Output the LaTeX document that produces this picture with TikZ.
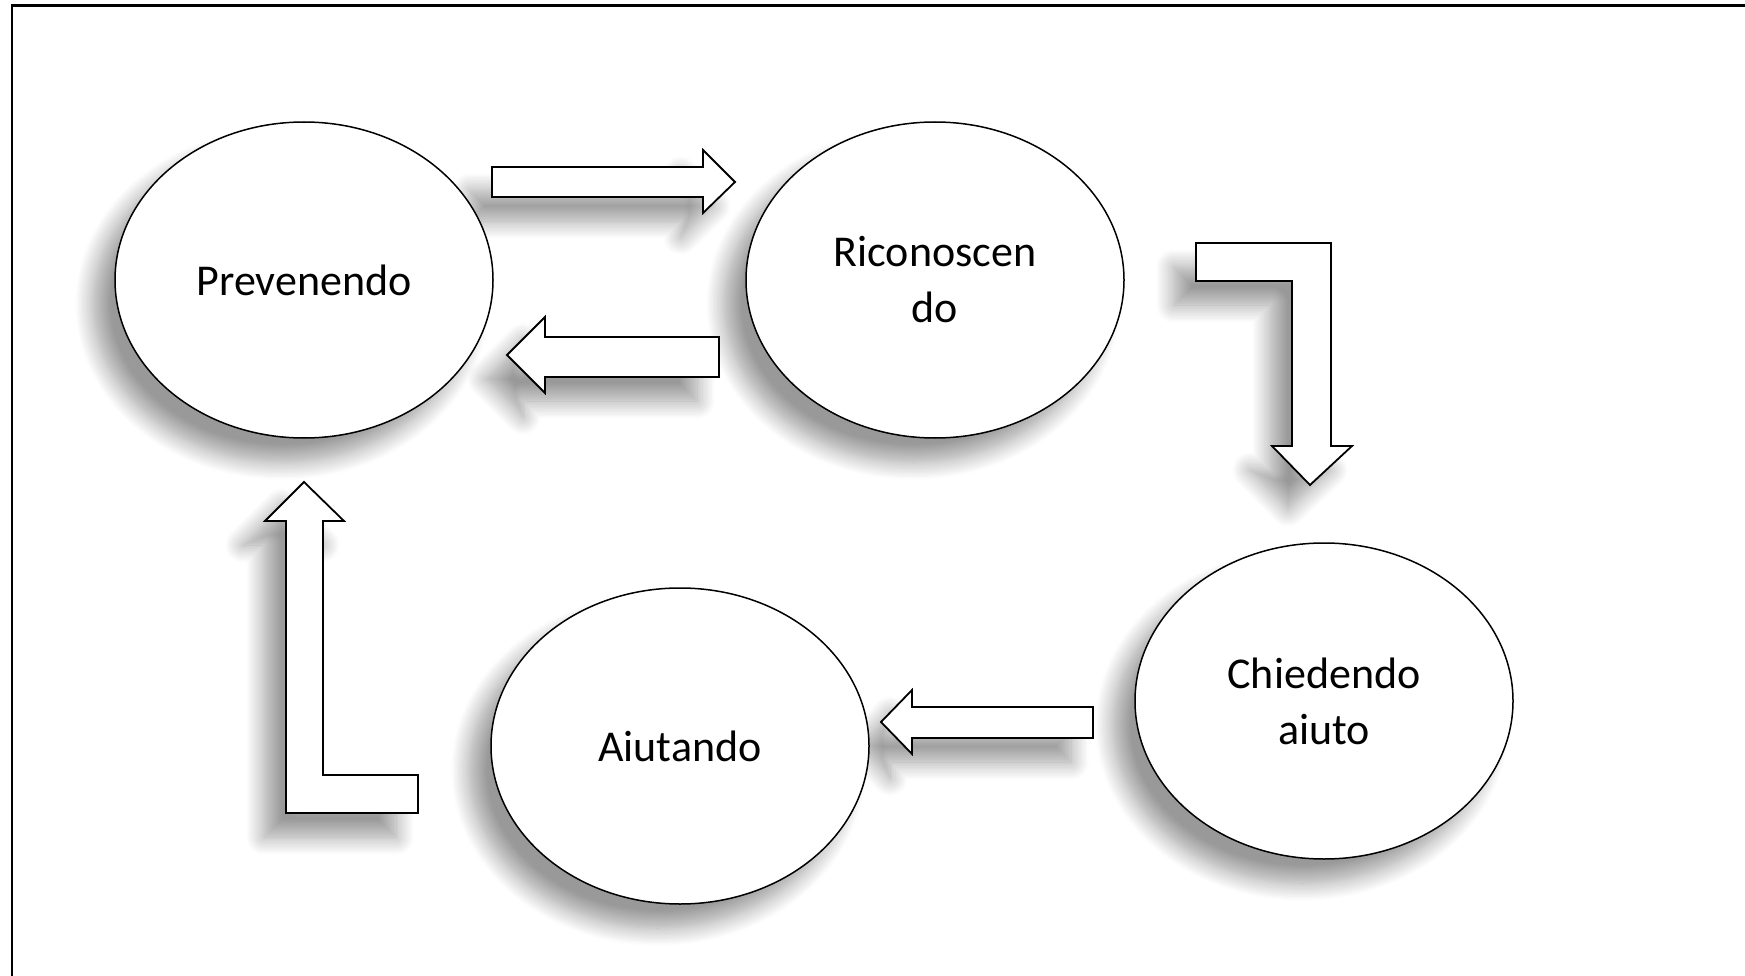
\documentclass[tikz,border=0pt]{standalone}
\usepackage{fontspec}
\setmainfont{Carlito}
\usetikzlibrary{shapes.geometric,shadows.blur}

\tikzset{
  ombra/.style={draw=none,fill=none,text opacity=0,
    blur shadow={shadow xshift=-22pt,shadow yshift=-24pt,
    shadow blur radius=18pt,shadow blur steps=14,shadow opacity=40}},
  forma/.style={},
  fase/.style={ellipse,draw=black,line width=1.5pt,fill=white,
    minimum width=378pt,minimum height=316pt,align=center,
    font=\fontsize{44}{56}\selectfont},
  freccia/.style={draw=black,line width=1.8pt,fill=white,line join=miter}
}

\begin{document}
\begin{tikzpicture}[x=1pt,y=-1pt]
 \useasboundingbox (0,0) rectangle (1745,976);
 % cornice
 \draw[line width=2.5pt] (12,976) -- (12,5.5) -- (1745,5.5);
 % prima le ombre, poi le forme
 \foreach \passo in {ombra,forma}{
 \node[fase,\passo] (prev)  at (304,280) {Prevenendo};
 \node[fase,\passo] (ricon) at (935,280) {Riconoscen\\do};
 \node[fase,\passo] (chied) at (1324,701) {Chiedendo\\aiuto};
 \node[fase,\passo] (aiut)  at (680,746) {Aiutando};
 \draw[freccia,\passo] (492,167)--(703,167)--(703,150)--(735,182)--(703,213)--(703,197)--(492,197)--cycle;
 \draw[freccia,\passo] (719,337)--(545,337)--(545,317)--(507,355)--(545,393)--(545,377)--(719,377)--cycle;
 \draw[freccia,\passo] (1196,243)--(1331,243)--(1331,446)--(1352,446)--(1310,485)--(1272,446)--(1292,446)--(1292,281)--(1196,281)--cycle;
 \draw[freccia,\passo] (1093,707)--(912,707)--(912,690)--(881,722)--(912,754)--(912,738)--(1093,738)--cycle;
 \draw[freccia,\passo] (304,482)--(344,521)--(323,521)--(323,775)--(418,775)--(418,813)--(286,813)--(286,521)--(265,521)--cycle;
 }
\end{tikzpicture}
\end{document}
